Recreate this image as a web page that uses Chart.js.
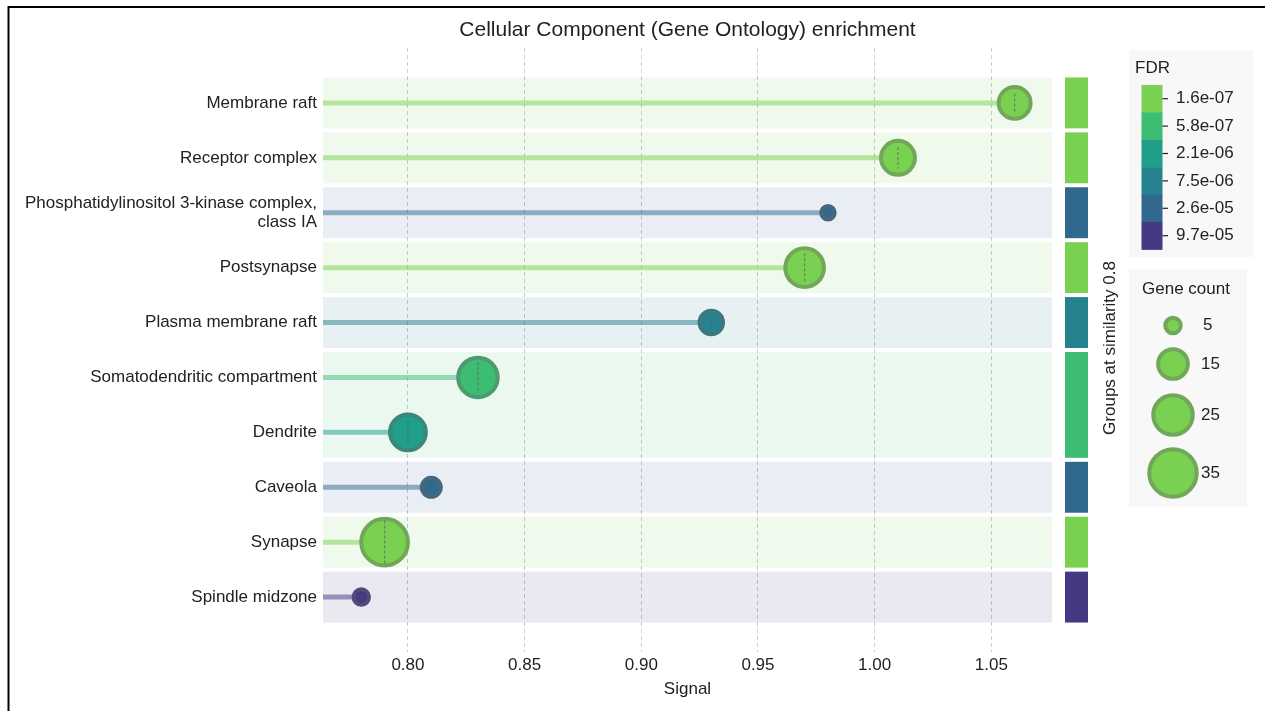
<!DOCTYPE html>
<html>
<head>
<meta charset="utf-8">
<script src="https://cdn.jsdelivr.net/npm/chart.js@4.4.1/dist/chart.umd.min.js"></script>
<style>
  html, body { margin: 0; padding: 0; background: #ffffff; }
  #wrap { width: 1265px; height: 711px; position: relative; }
</style>
</head>
<body>
<div id="wrap"><canvas id="chart" width="1265" height="711"></canvas></div>
<script>
// GO cellular component terms, top to bottom
const terms = [
  "Membrane raft",
  "Receptor complex",
  ["Phosphatidylinositol 3-kinase complex,", "class IA"],
  "Postsynapse",
  "Plasma membrane raft",
  "Somatodendritic compartment",
  "Dendrite",
  "Caveola",
  "Synapse",
  "Spindle midzone"
];
const signal    = [1.06, 1.01, 0.98, 0.97, 0.93, 0.83, 0.80, 0.81, 0.79, 0.78];
const geneCount = [17, 19, 4, 24, 10, 25, 21, 7, 34, 5];
const fdr       = [1.6e-07, 1.6e-07, 2.6e-05, 1.6e-07, 7.5e-06, 5.8e-07, 2.1e-06, 2.6e-05, 1.6e-07, 9.7e-05];
// similarity group of each term (terms sharing an id are merged into one band)
const groupId   = [0, 1, 2, 3, 4, 5, 5, 6, 7, 8];

// x axis
const xTicks = [0.80, 0.85, 0.90, 0.95, 1.00, 1.05];
const xMin = 0.7636, xMax = 1.076;

// FDR colour scale (discrete viridis steps)
const fdrTickLabels = ["1.6e-07", "5.8e-07", "2.1e-06", "7.5e-06", "2.6e-05", "9.7e-05"];
const fdrTickValues = [1.6e-07, 5.8e-07, 2.1e-06, 7.5e-06, 2.6e-05, 9.7e-05];
const fdrColors     = ["#7ad151", "#3dbc74", "#1f9e89", "#26828e", "#31688e", "#443983"];

// gene count legend
const sizeLegendCounts = [5, 15, 25, 35];

const FONT = "'Liberation Sans', Arial, Helvetica, sans-serif";
const TEXT = "#222222";
const EDGE_W = 4;

function hexToRgb(h) {
  const n = parseInt(h.slice(1), 16);
  return [(n >> 16) & 255, (n >> 8) & 255, n & 255];
}
function rgba(h, a) { const [r, g, b] = hexToRgb(h); return `rgba(${r},${g},${b},${a})`; }
function mix(h, other, t) {
  const a = hexToRgb(h), b = hexToRgb(other);
  const c = a.map((v, i) => Math.round(v * (1 - t) + b[i] * t));
  return `rgb(${c[0]},${c[1]},${c[2]})`;
}
function colorForFdr(v) {
  let best = 0, bd = Infinity;
  fdrTickValues.forEach((t, i) => {
    const d = Math.abs(Math.log10(v) - Math.log10(t));
    if (d < bd) { bd = d; best = i; }
  });
  return fdrColors[best];
}
// outer radius of a marker for a given gene count (area ~ count)
function outerRadius(c) { return 4.35 * Math.sqrt(c); }

const pointColors = fdr.map(colorForFdr);

// group colour = colour of the most significant member
const groupColor = {};
groupId.forEach((g, i) => {
  if (!(g in groupColor) || fdr[i] < groupColor[g].f) groupColor[g] = { f: fdr[i], c: pointColors[i] };
});

// stems: one short line per term from the left edge to its signal value
const stemSets = signal.map((v, i) => ({
  type: 'line',
  data: [{ x: xMin, y: i }, { x: v, y: i }],
  borderColor: rgba(pointColors[i], 0.5),
  borderWidth: 5,
  borderCapStyle: 'butt',
  pointRadius: 0,
  fill: false,
  order: 2
}));

const bubbleSet = {
  type: 'bubble',
  data: signal.map((v, i) => ({ x: v, y: i, r: outerRadius(geneCount[i]) - EDGE_W / 2 })),
  backgroundColor: pointColors,
  borderColor: pointColors.map(c => mix(c, '#666666', 0.4)),
  borderWidth: EDGE_W,
  order: 1
};

const decorPlugin = {
  id: 'decor',
  beforeDraw(chart) {
    const { ctx, chartArea: ca, scales: { y } } = chart;
    ctx.save();
    // group bands behind the plot + group colour strip on the right
    let i = 0;
    while (i < groupId.length) {
      let j = i;
      while (j + 1 < groupId.length && groupId[j + 1] === groupId[i]) j++;
      const top = y.getPixelForValue(i - 0.5) + 2;
      const bot = y.getPixelForValue(j + 0.5) - 2;
      const col = groupColor[groupId[i]].c;
      ctx.fillStyle = rgba(col, 0.11);
      ctx.fillRect(ca.left, top, ca.right - ca.left, bot - top);
      ctx.fillStyle = col;
      ctx.fillRect(1065, top, 23, bot - top);
      i = j + 1;
    }
    ctx.restore();
  },
  afterDatasetsDraw(chart) {
    const { ctx, scales: { x, y } } = chart;
    ctx.save();
    ctx.strokeStyle = 'rgba(90,90,90,0.6)';
    ctx.lineWidth = 1.3;
    ctx.setLineDash([3, 2]);
    signal.forEach((v, i) => {
      const px = x.getPixelForValue(v), py = y.getPixelForValue(i);
      const len = Math.max(3, 1.45 * geneCount[i] - 6);
      ctx.beginPath();
      ctx.moveTo(px, py - len / 2);
      ctx.lineTo(px, py + len / 2);
      ctx.stroke();
    });
    ctx.restore();
  },
  afterDraw(chart) {
    const { ctx, chartArea: ca } = chart;
    ctx.save();
    // title
    ctx.fillStyle = TEXT;
    ctx.font = `21px ${FONT}`;
    ctx.textAlign = 'center';
    ctx.textBaseline = 'middle';
    ctx.fillText('Cellular Component (Gene Ontology) enrichment', (ca.left + ca.right) / 2, 30);

    // vertical label of the group strip
    ctx.save();
    ctx.translate(1110, 348);
    ctx.rotate(-Math.PI / 2);
    ctx.font = `17px ${FONT}`;
    ctx.fillText('Groups at similarity 0.8', 0, 0);
    ctx.restore();

    // FDR colour bar
    ctx.fillStyle = '#f8f8f8';
    ctx.fillRect(1129, 50, 124, 207);
    ctx.fillStyle = TEXT;
    ctx.textAlign = 'left';
    ctx.font = `17px ${FONT}`;
    ctx.fillText('FDR', 1135, 68);
    const segH = 27.4, cbTop = 85;
    fdrColors.forEach((c, k) => {
      const t = cbTop + k * segH;
      ctx.fillStyle = c;
      ctx.fillRect(1141.5, t, 21, segH + 0.5);
      const cy = t + segH / 2;
      ctx.strokeStyle = TEXT;
      ctx.lineWidth = 1.2;
      ctx.beginPath();
      ctx.moveTo(1162.5, cy);
      ctx.lineTo(1168, cy);
      ctx.stroke();
      ctx.fillStyle = TEXT;
      ctx.fillText(fdrTickLabels[k], 1176, cy);
    });

    // gene count size legend
    ctx.fillStyle = '#f8f8f8';
    ctx.fillRect(1129, 269, 118, 238);
    ctx.fillStyle = TEXT;
    ctx.fillText('Gene count', 1142, 289);
    const ys = [325.5, 364, 415, 473];
    sizeLegendCounts.forEach((c, k) => {
      const r = outerRadius(c) - EDGE_W / 2;
      ctx.beginPath();
      ctx.arc(1173, ys[k], r, 0, Math.PI * 2);
      ctx.fillStyle = fdrColors[0];
      ctx.fill();
      ctx.lineWidth = EDGE_W;
      ctx.strokeStyle = mix(fdrColors[0], '#666666', 0.4);
      ctx.stroke();
      ctx.fillStyle = TEXT;
      ctx.fillText(String(c), c < 10 ? 1203 : 1201, ys[k]);
    });

    // outer frame (top and left edges)
    ctx.strokeStyle = '#000000';
    ctx.lineWidth = 2;
    ctx.beginPath();
    ctx.moveTo(8.5, 720);
    ctx.lineTo(8.5, 7);
    ctx.lineTo(1265, 7);
    ctx.stroke();
    ctx.restore();
  }
};

new Chart(document.getElementById('chart'), {
  type: 'bubble',
  data: { datasets: [...stemSets, bubbleSet] },
  options: {
    responsive: false,
    maintainAspectRatio: false,
    animation: false,
    events: [],
    layout: { padding: { left: 0, right: 213, top: 48, bottom: 0 } },
    plugins: { legend: { display: false }, tooltip: { enabled: false }, title: { display: false } },
    scales: {
      x: {
        type: 'linear',
        min: xMin,
        max: xMax,
        afterBuildTicks: s => { s.ticks = xTicks.map(v => ({ value: v })); },
        afterFit: s => { s.height = 59; },
        ticks: {
          callback: v => Number(v).toFixed(2),
          color: TEXT,
          font: { family: FONT, size: 17 },
          padding: 3,
          maxRotation: 0,
          autoSkip: false
        },
        grid: { color: 'rgba(0,0,0,0.2)', lineWidth: 1, drawTicks: false },
        border: { display: false, dash: [4, 3] },
        title: {
          display: true,
          text: 'Signal',
          color: TEXT,
          font: { family: FONT, size: 17 },
          padding: { top: 0, bottom: 11 }
        }
      },
      y: {
        type: 'linear',
        min: -1,
        max: 10,
        reverse: true,
        afterBuildTicks: s => { s.ticks = terms.map((_, i) => ({ value: i })); },
        afterFit: s => { s.width = 323; },
        ticks: {
          callback: v => terms[v],
          color: TEXT,
          font: { family: FONT, size: 17, lineHeight: 1.15 },
          padding: 6,
          autoSkip: false
        },
        grid: { display: false, drawTicks: false },
        border: { display: false }
      }
    }
  },
  plugins: [decorPlugin]
});
</script>
</body>
</html>
